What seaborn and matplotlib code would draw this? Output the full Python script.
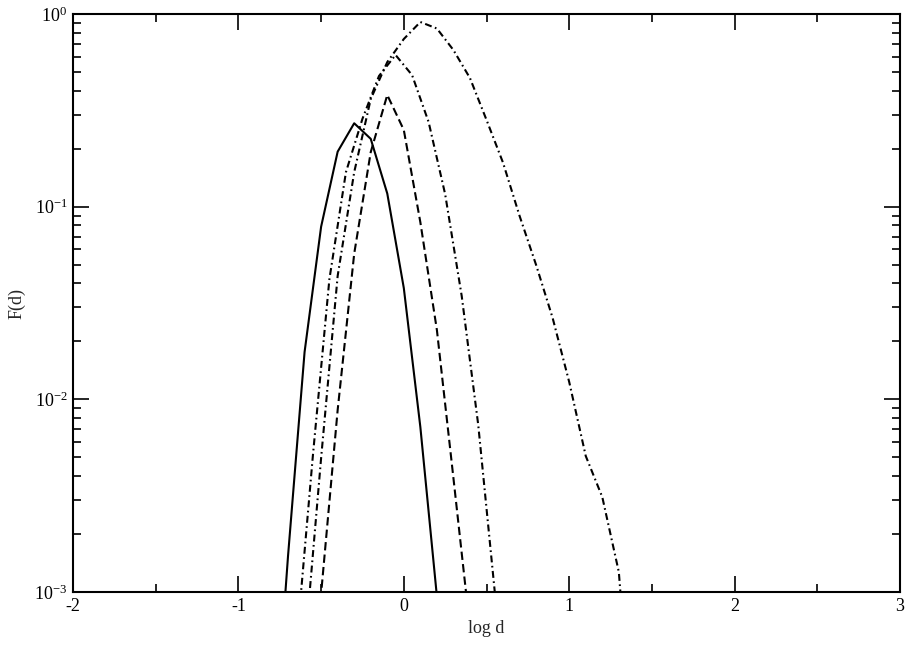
import matplotlib
matplotlib.use('Agg')
import matplotlib.pyplot as plt
from matplotlib.ticker import MultipleLocator, LogLocator, NullFormatter
import seaborn as sns

# 곡선 데이터 (log d, F(d)) - 그림에서 읽은 값
x_solid = [-0.8, -0.7, -0.6, -0.5, -0.4, -0.3, -0.2, -0.1, 0.0, 0.1, 0.2]
y_solid = [0.0001, 0.00154, 0.0176, 0.0787, 0.193, 0.271, 0.225, 0.117, 0.0378, 0.00718, 0.00095]

x_dash = [-0.6, -0.5, -0.4, -0.3, -0.2, -0.1, 0.0, 0.1, 0.2, 0.3, 0.4]
y_dash = [0.0001, 0.00098, 0.0088, 0.057, 0.192, 0.38, 0.25, 0.083, 0.0229, 0.0039, 0.00065]

x_dot1 = [-0.65, -0.55, -0.45, -0.35, -0.25, -0.15, -0.05, 0.05, 0.15, 0.25, 0.35, 0.45, 0.55]
y_dot1 = [0.00052, 0.00508, 0.042, 0.151, 0.286, 0.477, 0.613, 0.482, 0.275, 0.116, 0.0344, 0.00736, 0.001]

x_dot2 = [-0.6, -0.5, -0.4, -0.3, -0.2, -0.1, 0.0, 0.1, 0.2, 0.3, 0.4, 0.5, 0.6,
          0.7, 0.8, 0.9, 1.0, 1.1, 1.2, 1.3, 1.4]
y_dot2 = [0.00049, 0.00496, 0.0437, 0.151, 0.362, 0.563, 0.742, 0.909, 0.841, 0.65, 0.465,
          0.282, 0.169, 0.0895, 0.0498, 0.0264, 0.0123, 0.00508, 0.00311, 0.00127, 0.0001]

sns.set_style('ticks')
plt.rcParams['font.family'] = ['Liberation Serif', 'DejaVu Serif']
plt.rcParams['axes.unicode_minus'] = False
plt.rcParams['lines.scale_dashes'] = False

fig = plt.figure(figsize=(9.07, 6.49), dpi=100)
ax = fig.add_axes([0.0805, 0.0878, 0.9118, 0.8906])

lw = 1.5
sns.lineplot(x=x_solid, y=y_solid, ax=ax, color='black', linewidth=lw)
sns.lineplot(x=x_dash, y=y_dash, ax=ax, color='black', linewidth=lw, linestyle=(0, (6, 3)))
sns.lineplot(x=x_dot1, y=y_dot1, ax=ax, color='black', linewidth=lw, linestyle=(0, (5, 2.5, 1.2, 2.5)))
sns.lineplot(x=x_dot2, y=y_dot2, ax=ax, color='black', linewidth=lw, linestyle=(0, (5, 2.5, 1.2, 2.5)))

ax.set_yscale('log')
ax.set_xlim(-2, 3)
ax.set_ylim(1e-3, 1)

ax.xaxis.set_major_locator(MultipleLocator(1))
ax.xaxis.set_minor_locator(MultipleLocator(0.5))
ax.yaxis.set_major_locator(LogLocator(base=10, numticks=10))
ax.yaxis.set_minor_locator(LogLocator(base=10, subs=range(2, 10), numticks=10))
ax.yaxis.set_minor_formatter(NullFormatter())

ax.tick_params(which='both', direction='in', top=True, right=True, colors='black', width=1.2)
ax.tick_params(which='major', length=11.5, labelsize=13, pad=4)
ax.tick_params(which='minor', length=5.8)
for s in ax.spines.values():
    s.set_linewidth(1.5)
    s.set_color('black')

ax.set_xlabel('log d', fontsize=13, labelpad=4)
ax.set_ylabel('F(d)', fontsize=13, labelpad=6)

fig.savefig('out.png', dpi=100)
